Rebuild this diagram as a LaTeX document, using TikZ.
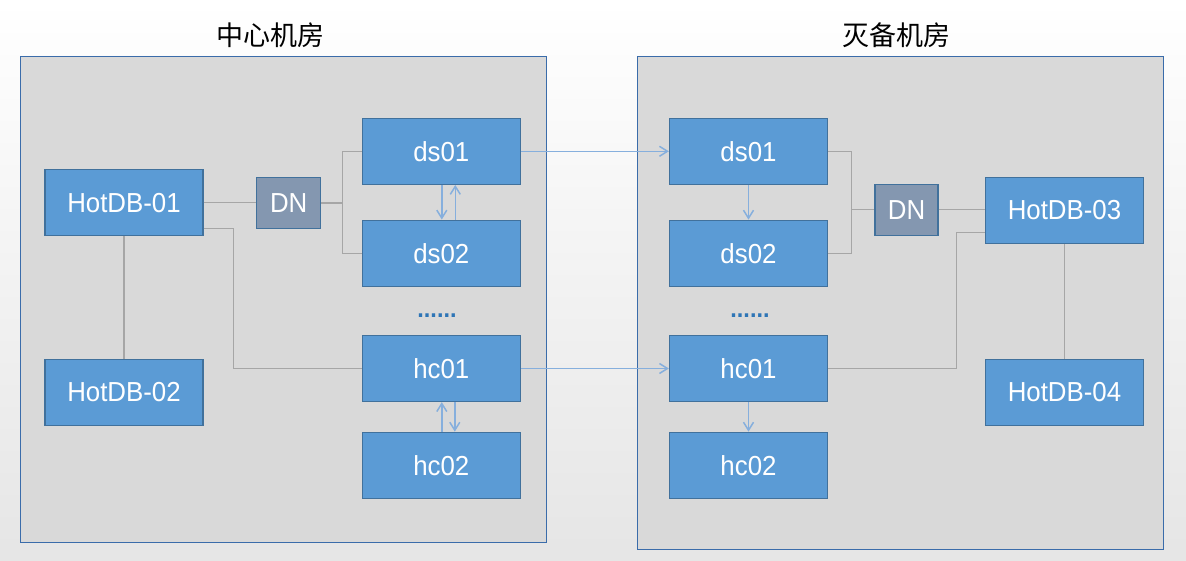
\documentclass[tikz,border=0pt]{standalone}
\usepackage{fontspec}
\setmainfont{Liberation Sans}
\newfontfamily\boxfont[FakeStretch=0.94]{Liberation Sans}
\newfontfamily\cjkfont{Noto Sans CJK SC}
\usetikzlibrary{arrows.meta}

\definecolor{boxblue}{HTML}{5B9BD5}
\definecolor{boxline}{HTML}{41719C}
\definecolor{dngray}{HTML}{8497B0}
\definecolor{roomgray}{HTML}{D9D9D9}
\definecolor{roomline}{HTML}{3A6CAA}
\definecolor{linkgray}{HTML}{A6A6A6}
\definecolor{syncblue}{HTML}{86AFDD}
\definecolor{dotblue}{HTML}{2E75B6}

\tikzset{
        room/.style={draw=roomline, fill=roomgray, line width=1.2pt, inner sep=0pt},
        db/.style={draw=boxline, fill=boxblue, line width=1.3pt, inner sep=0pt, minimum width=158pt, minimum height=66pt, text=white, font=\boxfont\fontsize{27.5}{30}\selectfont},
        dn/.style={db, fill=dngray, minimum width=64pt, minimum height=51pt},
        dots/.style={inner sep=0pt, text=dotblue, font=\boxfont\bfseries\fontsize{25}{30}\selectfont},
        link/.style={draw=linkgray, line width=1.2pt},
        sync/.style={draw=syncblue, line width=1.5pt, -{Straight Barb[length=8pt,width=10pt]}},
        title/.style={inner sep=0pt, font=\cjkfont\fontsize{27}{30}\selectfont}
}

\begin{document}
\begin{tikzpicture}[x=1pt, y=-1pt]
        \useasboundingbox (0,0) rectangle (1186,561);
        \shade[top color=white, bottom color=black!10] (0,0) rectangle (1186,561);

        \node[room, minimum width=526pt, minimum height=486pt] (centre) at (283.5,299.2) {};
        \node[room, minimum width=526pt, minimum height=493pt] (backup) at (900.3,302.7) {};
        \node[title] (centretitle) at (270,35.5) {中心机房};
        \node[title] (backuptitle) at (896,35.5) {灭备机房};

        \node[db] (hotdba) at (124,202.8) {HotDB-01};
        \node[db] (hotdbb) at (124,392.3) {HotDB-02};
        \node[dn] (dnl) at (288.7,203) {DN};
        \node[db] (dsal) at (441.3,151.3) {ds01};
        \node[db] (dsbl) at (441.3,253.2) {ds02};
        \node[dots] (dotsl) at (437,316) {......};
        \node[db] (hcal) at (441.3,368.5) {hc01};
        \node[db] (hcbl) at (441.3,465.3) {hc02};

        \node[db] (dsar) at (748.5,151.3) {ds01};
        \node[db] (dsbr) at (748.5,253.3) {ds02};
        \node[dots] (dotsr) at (750,316) {......};
        \node[db] (hcar) at (748.5,368.5) {hc01};
        \node[db] (hcbr) at (748.5,465.3) {hc02};
        \node[dn, minimum width=63pt] (dnr) at (906.5,209.8) {DN};
        \node[db] (hotdbc) at (1064.5,210.5) {HotDB-03};
        \node[db] (hotdbd) at (1064.5,392.3) {HotDB-04};

        \draw[link] (hotdba.east) -- (hotdba.east -| dnl.west);
        \draw[link] (dnl.east) -- ++(21,0) |- (dsal.west);
        \draw[link] (dnl.east) -- ++(21,0) |- (dsbl.west);
        \draw[link] ([yshift=-25.5pt]hotdba.east) -- ++(30,0) |- (hcal.west);
        \draw[link] (hotdba) -- (hotdbb);

        \draw[link] (dsar.east) -- ++(23,0) |- (dnr.west);
        \draw[link] (dsbr.east) -- ++(23,0) |- (dnr.west);
        \draw[link] (dnr.east) -- (dnr.east -| hotdbc.west);
        \draw[link] (hcar.east) -- ++(128,0) |- ([yshift=-22pt]hotdbc.west);
        \draw[link] (hotdbc) -- (hotdbd);

        \draw[sync] ([xshift=0.5pt]dsal.south) -- ([xshift=0.5pt]dsbl.north);
        \draw[sync] ([xshift=14pt]dsbl.north) -- ([xshift=14pt]dsal.south);
        \draw[sync] ([xshift=13.5pt]hcal.south) -- ([xshift=13.5pt]hcbl.north);
        \draw[sync] ([xshift=0.5pt]hcbl.north) -- ([xshift=0.5pt]hcal.south);
        \draw[sync] (dsal.east) -- (dsar.west);
        \draw[sync] (hcal.east) -- (hcar.west);
        \draw[sync] (dsar) -- (dsbr);
        \draw[sync] (hcar) -- (hcbr);

\end{tikzpicture}
\end{document}
